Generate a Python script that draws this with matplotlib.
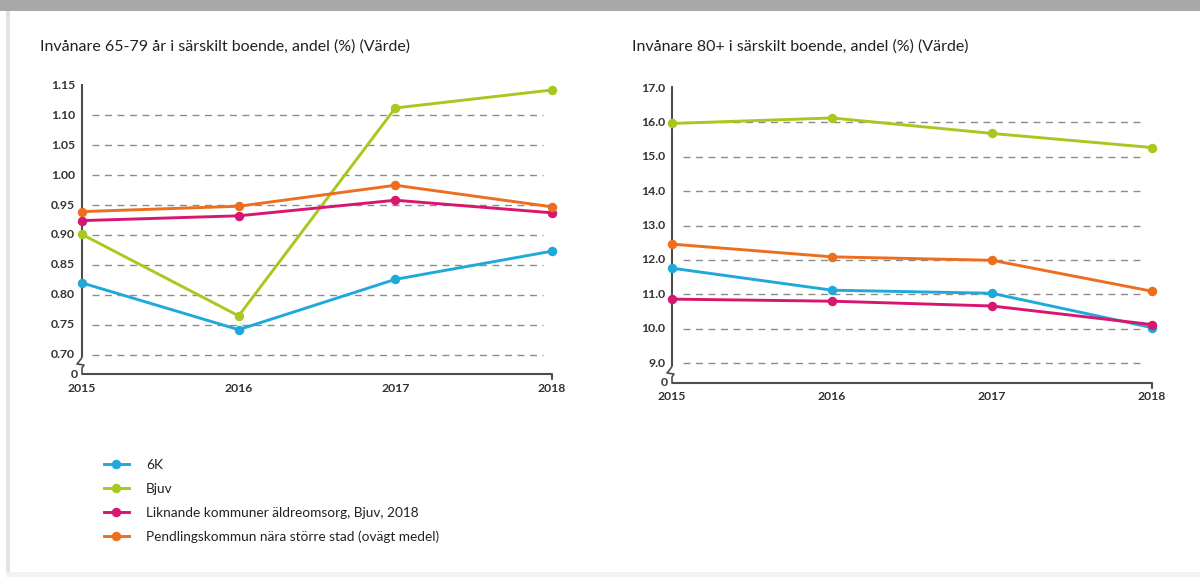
import matplotlib
matplotlib.use("Agg")
import matplotlib.pyplot as plt
from matplotlib.patches import Rectangle
from matplotlib.lines import Line2D
import matplotlib.transforms as mtransforms

plt.rcParams['font.family'] = ['Lato', 'DejaVu Sans']

# ---- data ----
years = [2015, 2016, 2017, 2018]
series_names = ["6K", "Bjuv", "Liknande kommuner äldreomsorg, Bjuv, 2018",
                "Pendlingskommun nära större stad (ovägt medel)"]
colors = ["#1fa9d9", "#a6c81f", "#d8166f", "#ec6e1f"]

title_left = "Invånare 65-79 år i särskilt boende, andel (%) (Värde)"
vals_left = [
    [0.820, 0.742, 0.826, 0.873],   # 6K
    [0.901, 0.765, 1.112, 1.142],   # Bjuv
    [0.924, 0.932, 0.958, 0.937],   # Liknande kommuner
    [0.939, 0.948, 0.983, 0.947],   # Pendlingskommun
]
ticks_left = [0.70, 0.75, 0.80, 0.85, 0.90, 0.95, 1.00, 1.05, 1.10, 1.15]
ticklabels_left = ["0.70", "0.75", "0.80", "0.85", "0.90", "0.95", "1.00", "1.05", "1.10", "1.15"]

title_right = "Invånare 80+ i särskilt boende, andel (%) (Värde)"
vals_right = [
    [11.76, 11.12, 11.03, 10.03],   # 6K
    [15.97, 16.13, 15.68, 15.27],   # Bjuv
    [10.86, 10.80, 10.66, 10.12],   # Liknande kommuner
    [12.46, 12.09, 11.99, 11.09],   # Pendlingskommun
]
ticks_right = [9.0, 10.0, 11.0, 12.0, 13.0, 14.0, 15.0, 16.0, 17.0]
ticklabels_right = ["9.0", "10.0", "11.0", "12.0", "13.0", "14.0", "15.0", "16.0", "17.0"]

W, H = 1200, 577
fig = plt.figure(figsize=(W / 100, H / 100), dpi=100)
fig.patch.set_facecolor("white")

# page frame
fig.patches.append(Rectangle((0, 1 - 11 / H), 1, 11 / H, transform=fig.transFigure,
                             facecolor="#a8a8a8", edgecolor="none", zorder=0))
fig.patches.append(Rectangle((6 / W, 5 / H), 4 / W, 1 - 16 / H, transform=fig.transFigure,
                             facecolor="#e2e2e2", edgecolor="none", zorder=0))
fig.patches.append(Rectangle((6 / W, 0), 1 - 6 / W, 5 / H, transform=fig.transFigure,
                             facecolor="#f2f2f2", edgecolor="none", zorder=0))

axis_color = "#4d4d4d"
text_color = "#333333"
tick_fs = 8.8


def px_box(x0, x1, ytop, ybot):
    return [x0 / W, 1 - ybot / H, (x1 - x0) / W, (ybot - ytop) / H]


def draw_panel(rect, title, title_xy, values, ticks, ticklabels, ylim, grid_x, label_pad_px):
    ax = fig.add_axes(rect)
    ax.set_facecolor("none")
    for s in ax.spines.values():
        s.set_visible(False)
    ax.set_xlim(years[0], years[-1])
    ax.set_ylim(*ylim)
    ax.set_yticks([])
    ax.set_xticks([])

    # dashed grid (top tick has no grid line)
    trans = mtransforms.blended_transform_factory(ax.transAxes, ax.transData)
    for t in ticks[:-1]:
        ax.plot(grid_x, [t, t], transform=trans, color="#8c8c8c", lw=1.0,
                dashes=(5, 4), zorder=1)

    for vals, c in zip(values, colors):
        ax.plot(years, vals, color=c, lw=2.1, marker="o", markersize=6.8,
                markeredgewidth=0, clip_on=False, zorder=3)

    # y tick labels, incl. the "0" at the broken axis base
    tl = mtransforms.offset_copy(trans, fig=fig, x=-label_pad_px, y=0, units="dots")
    for t, lab in zip(ticks, ticklabels):
        ax.text(0, t, lab, transform=tl, ha="right", va="center", fontsize=tick_fs,
                color=text_color, fontweight="bold")
    ax.text(0, 0, "0", transform=mtransforms.offset_copy(ax.transAxes, fig=fig,
            x=-4, y=0, units="dots"), ha="right", va="center", fontsize=tick_fs,
            color=text_color, fontweight="bold")

    # x tick labels
    xt = mtransforms.blended_transform_factory(ax.transData, ax.transAxes)
    for y in years:
        ax.text(y, 0, str(y), transform=mtransforms.offset_copy(xt, fig=fig, x=0, y=-14,
                units="dots"), ha="center", va="center", fontsize=tick_fs,
                color=text_color, fontweight="bold")
    # x axis with end hook
    ax.plot([years[0], years[-1]], [0, 0], transform=xt, color=axis_color, lw=1.5,
            clip_on=False, solid_capstyle="butt", zorder=2)
    ax.annotate("", xy=(years[-1], 0), xycoords=xt, xytext=(0, -5),
                textcoords="offset pixels",
                arrowprops=dict(arrowstyle="-", color=axis_color, lw=1.5,
                                shrinkA=0, shrinkB=0))

    # broken y axis: top part, zigzag, short base part
    bb = ax.get_position()
    hpx = bb.height * H

    def fy(px_from_bottom):
        return px_from_bottom / hpx

    def fx(px):
        return px / (bb.width * W)

    ax.plot([0, 0], [fy(17), 1.0], transform=ax.transAxes, color=axis_color, lw=1.5,
            clip_on=False, solid_capstyle="butt")
    ax.plot([0, fx(-1), fx(-5), fx(2), fx(0), 0],
            [fy(17), fy(15), fy(10), fy(9), fy(6), 0], transform=ax.transAxes,
            color=axis_color, lw=1.2, clip_on=False)

    fig.text(title_xy[0] / W, 1 - title_xy[1] / H, title, fontsize=11.5,
             color="#222222", ha="left", va="center")
    return ax


draw_panel(px_box(82, 552, 84, 374), title_left, (40, 47), vals_left, ticks_left,
           ticklabels_left, (0.668, 1.152), [0.021, 0.981], 7)
draw_panel(px_box(672, 1152, 86, 383), title_right, (632, 47), vals_right, ticks_right,
           ticklabels_right, (8.42, 17.06), [0.023, 0.981], 7)

# legend
handles = [Line2D([0], [0], color=c, lw=2.1, marker="o", markersize=6.8,
                  markeredgewidth=0) for c in colors]
fig.legend(handles, series_names, loc="upper left",
           bbox_to_anchor=(104 / W, 1 - 459 / H), frameon=False, fontsize=9.8,
           handlelength=1.8, handletextpad=1.3, labelspacing=0.87, borderpad=0,
           borderaxespad=0, labelcolor="#222222")

fig.savefig("out.png", dpi=100, facecolor="white")
